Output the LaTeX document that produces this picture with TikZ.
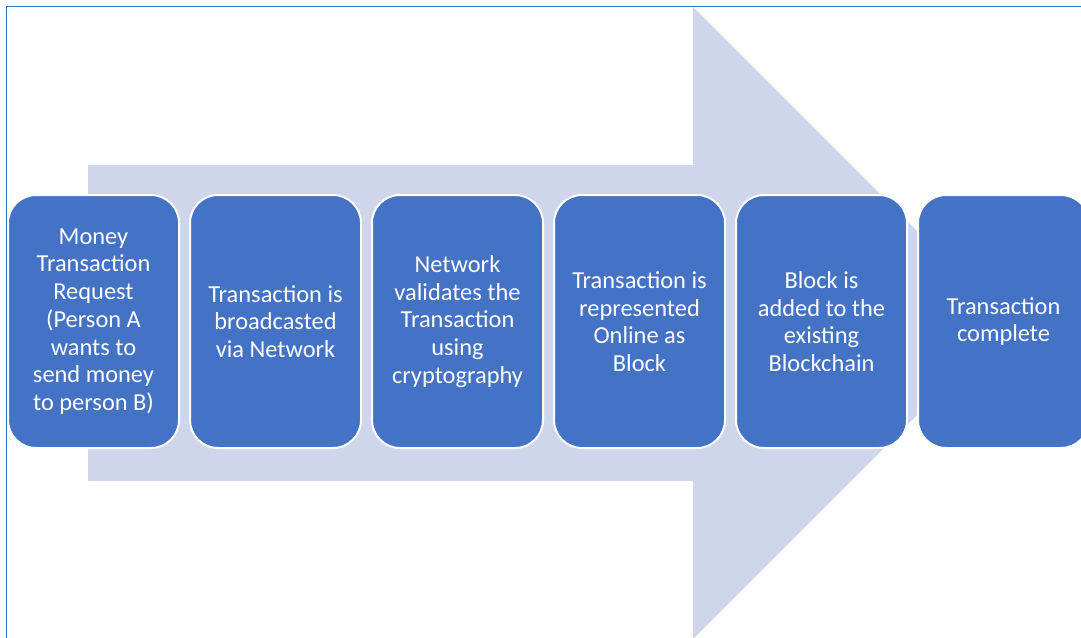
\documentclass[tikz,border=0pt]{standalone}
\usepackage{fontspec}
\setmainfont{Carlito}
\usepackage{tikz}
\usetikzlibrary{positioning}
\usepackage{xcolor}
\definecolor{boxblue}{HTML}{4472C4}
\definecolor{arrowgray}{HTML}{CFD5EA}

\begin{document}
\begin{tikzpicture}[x=0.5pt, y=-0.5pt,
  stage/.style={draw=white, line width=1pt, fill=boxblue, rounded corners=14pt,
    minimum width=85.5pt, minimum height=126.5pt, outer sep=0pt,
    text=white, align=center, font=\fontsize{12.2}{13.85}\selectfont},
  node distance=5.5pt]
  \useasboundingbox (0,0) rectangle (1081,637);
  \clip (0,0) rectangle (1081,637);

  % Frame
  \draw[boxblue, line width=0.8pt] (6.5,6.5) rectangle (1100,660);

  % Big arrow behind the stages
  \fill[arrowgray] (88,165) -- (693,165) -- (693,7) -- (1009,323)
    -- (693,639) -- (693,481) -- (88,481) -- cycle;

  % Stages
  \node[stage] (request) at (93.5,321.5) {Money\\Transaction\\Request\\(Person A\\wants to\\send money\\to person B)};
  \node[stage, right=of request] (broadcast) {Transaction is\\broadcasted\\via Network};
  \node[stage, right=of broadcast] (validate) {Network\\validates the\\Transaction\\using\\cryptography};
  \node[stage, right=of validate] (block) {Transaction is\\represented\\Online as\\Block};
  \node[stage, right=of block] (chain) {Block is\\added to the\\existing\\Blockchain};
  \node[stage, right=of chain] (complete) {Transaction\\complete};
\end{tikzpicture}
\end{document}
